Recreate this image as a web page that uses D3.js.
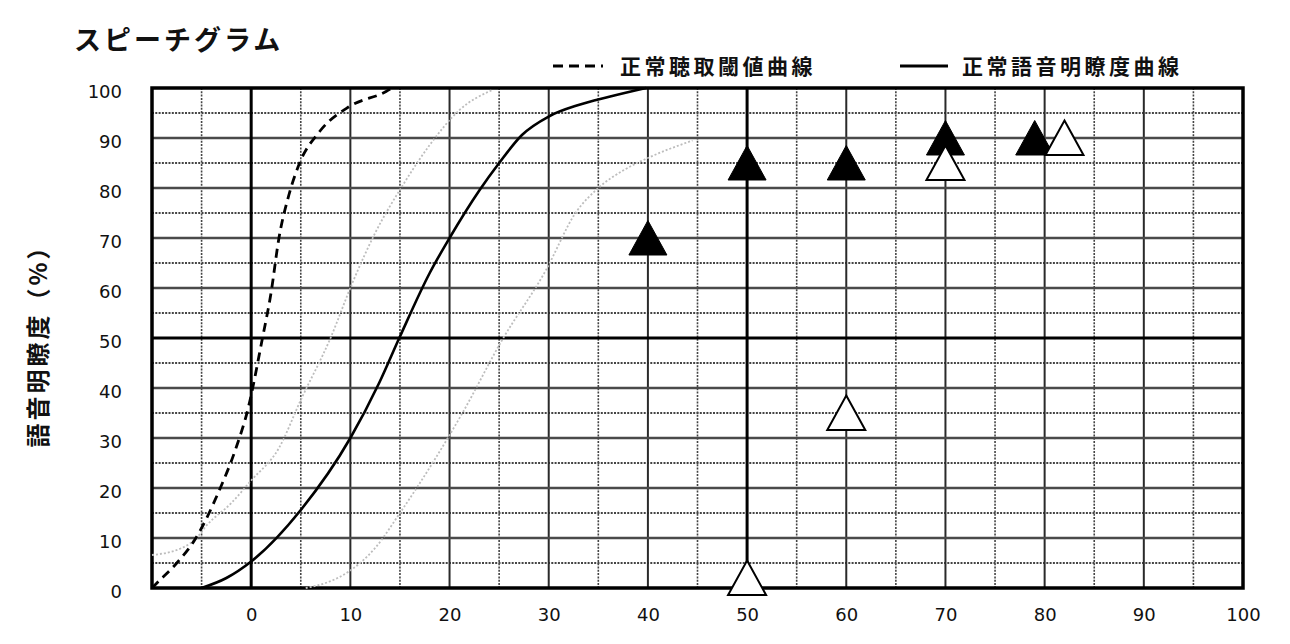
<!DOCTYPE html>
<html><head><meta charset="utf-8">
<script src="https://cdn.jsdelivr.net/npm/d3@7"></script>
<style>
html,body{margin:0;padding:0;background:#fff;}
svg text{font-family:"Noto Sans CJK JP","Noto Sans",sans-serif;fill:#111;}
.tick text{font-family:"DejaVu Sans",sans-serif;}
</style></head>
<body><svg id="c" width="1290" height="644"></svg>
<script>
// ---- data ----
const titleText = "スピーチグラム";
const yLabel = "語音明瞭度（%）";
const legendLabels = ["正常聴取閾値曲線", "正常語音明瞭度曲線"];
const xTicks = [0, 10, 20, 30, 40, 50, 60, 70, 80, 90, 100];
const yTicks = [0, 10, 20, 30, 40, 50, 60, 70, 80, 90, 100];
// normal hearing threshold curve (dashed)
const thresholdCurve = [[-10,0],[-9.5,1],[-7.5,5],[-5.7,9.6],[-3.2,19.6],[-1.6,27.6],[-0.3,36],[1.1,49.6],[2,59],[2.8,70],[3.8,78.6],[4.8,84.6],[6.9,91.3],[9.9,96.3],[13.6,99.3],[14.2,100]];
// normal speech discrimination curve (solid)
const speechCurve = [[-5,0],[-2.5,2],[0,5.3],[5,15.6],[10,30],[12.9,41],[15,50.3],[18,63],[20,70],[23,79.5],[25,85],[27.3,90.6],[30,94.3],[33,96.6],[36,98.2],[39.8,100]];
// light grey reference curves
const greyLeft = [[-10,6.6],[-7,8],[-5.5,10],[-4.5,12.5],[-2,17],[0,21.5],[2.8,28],[5,37.6],[8,50],[10.2,61],[12.5,71],[15.3,80.6],[18,88.6],[21,95.6],[24.3,99.6]];
const greyRight = [[5.5,0],[7.5,1],[10,3.5],[12.5,8],[15,15],[18.6,26],[21.3,35],[25.3,49.6],[29.7,63.5],[32.7,75],[35,80],[37.5,83.5],[40,86],[44.5,89.5]];
// measured points
const filledX = [40, 50, 60, 70, 79];
const filledY = [70, 85, 85, 90, 90];
const openX = [50, 60, 70, 82];
const openY = [2, 35, 85, 90];

// ---- chart ----
const svg = d3.select("#c");
const L = 152, R = 1243, T = 88, B = 588;
const x = d3.scaleLinear().domain([-10, 100]).range([L, R]);
const y = d3.scaleLinear().domain([0, 100]).range([B, T]);

const g = svg.append("g");
// dotted minor grid at 5s
const minorX = d3.range(-5, 100, 10);
const minorY = d3.range(5, 100, 10);
g.selectAll(".mx").data(minorX).join("line")
  .attr("x1", d => x(d)).attr("x2", d => x(d)).attr("y1", T).attr("y2", B)
  .attr("stroke", "#444").attr("stroke-width", 1.6).attr("stroke-dasharray", "2,1.3");
g.selectAll(".my").data(minorY).join("line")
  .attr("x1", L).attr("x2", R).attr("y1", d => y(d)).attr("y2", d => y(d))
  .attr("stroke", "#444").attr("stroke-width", 2).attr("stroke-dasharray", "2,1.3");
// major grid at 10s
const majorX = d3.range(10, 100, 10).filter(d => d !== 50);
g.selectAll(".Mx").data(majorX).join("line")
  .attr("x1", d => x(d)).attr("x2", d => x(d)).attr("y1", T).attr("y2", B)
  .attr("stroke", "#2a2a2a").attr("stroke-width", 2);
const majorY = d3.range(10, 100, 10).filter(d => d !== 50);
g.selectAll(".My").data(majorY).join("line")
  .attr("x1", L).attr("x2", R).attr("y1", d => y(d)).attr("y2", d => y(d))
  .attr("stroke", "#4a4a4a").attr("stroke-width", 2.6);
// heavy lines
g.selectAll(".hx").data([0, 50]).join("line")
  .attr("x1", d => x(d)).attr("x2", d => x(d)).attr("y1", T).attr("y2", B)
  .attr("stroke", "#000").attr("stroke-width", 3);
g.selectAll(".hy").data([50]).join("line")
  .attr("x1", L).attr("x2", R).attr("y1", d => y(d)).attr("y2", d => y(d))
  .attr("stroke", "#000").attr("stroke-width", 3);
// border
g.append("rect").attr("x", L).attr("y", T).attr("width", R - L).attr("height", B - T)
  .attr("fill", "none").attr("stroke", "#000").attr("stroke-width", 3.5);

// curves
const line = d3.line().x(d => x(d[0])).y(d => y(d[1])).curve(d3.curveMonotoneX);
[greyLeft, greyRight].forEach(c => {
  g.append("path").attr("d", line(c)).attr("fill", "none")
    .attr("stroke", "#bdbdbd").attr("stroke-width", 1.8).attr("stroke-dasharray", "2,2");
});
g.append("path").attr("d", line(thresholdCurve)).attr("fill", "none")
  .attr("stroke", "#000").attr("stroke-width", 2.8).attr("stroke-dasharray", "9,6");
g.append("path").attr("d", line(speechCurve)).attr("fill", "none")
  .attr("stroke", "#000").attr("stroke-width", 2.6);

// triangles
const tri = "M0,-17.5L19,17L-19,17Z";
g.selectAll(".ft").data(filledX.map((d, i) => [d, filledY[i]])).join("path")
  .attr("d", tri).attr("transform", d => `translate(${x(d[0])},${y(d[1])})`)
  .attr("fill", "#000").attr("stroke", "#000").attr("stroke-width", 1);
g.selectAll(".ot").data(openX.map((d, i) => [d, openY[i]])).join("path")
  .attr("d", tri).attr("transform", d => `translate(${x(d[0])},${y(d[1])})`)
  .attr("fill", "#fff").attr("stroke", "#000").attr("stroke-width", 2);

// axes
const xAxis = d3.axisBottom(x).tickValues(xTicks).tickSize(0).tickPadding(20);
const xa = svg.append("g").attr("transform", `translate(0,${B})`).call(xAxis);
xa.select(".domain").remove();
xa.selectAll("text").attr("font-size", 18).attr("fill", "#111");
const yAxis = d3.axisLeft(y).tickValues(yTicks).tickSize(0).tickPadding(30);
const ya = svg.append("g").attr("transform", `translate(${L},0)`).call(yAxis);
ya.select(".domain").remove();
ya.selectAll("text").attr("font-size", 18).attr("fill", "#111").attr("dy", "0.55em");

// title
svg.append("text").attr("x", 74).attr("y", 50).attr("font-size", 27)
  .attr("letter-spacing", 3).attr("font-weight", 700).text(titleText);
// y label
svg.append("text").attr("transform", `translate(47,340) rotate(-90)`)
  .attr("text-anchor", "middle").attr("font-size", 24).attr("font-weight", 700)
  .attr("letter-spacing", 3).text(yLabel);
// legend
const lg = svg.append("g");
lg.append("line").attr("x1", 553).attr("x2", 603).attr("y1", 66).attr("y2", 66)
  .attr("stroke", "#000").attr("stroke-width", 3).attr("stroke-dasharray", "10,6");
lg.append("text").attr("x", 620).attr("y", 74).attr("font-size", 21)
  .attr("letter-spacing", 3.5).attr("font-weight", 700).text(legendLabels[0]);
lg.append("line").attr("x1", 900).attr("x2", 948).attr("y1", 66).attr("y2", 66)
  .attr("stroke", "#000").attr("stroke-width", 3);
lg.append("text").attr("x", 962).attr("y", 74).attr("font-size", 21)
  .attr("letter-spacing", 3.5).attr("font-weight", 700).text(legendLabels[1]);
</script></body></html>
